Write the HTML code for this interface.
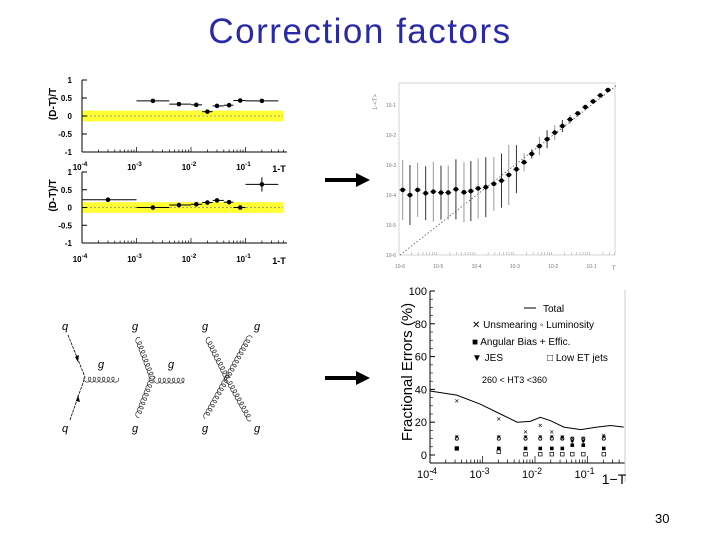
<!DOCTYPE html>
<html><head><meta charset="utf-8"><style>
body{margin:0;background:#fff;width:720px;height:540px;overflow:hidden;font-family:"Liberation Sans",sans-serif}
svg text{font-family:"Liberation Sans",sans-serif}
</style></head><body>
<svg id="s" width="720" height="540" viewBox="0 0 720 540">
<text x="360" y="43" text-anchor="middle" font-size="35" letter-spacing="1.5" fill="#2a2aa8">Correction factors</text>
<text x="655" y="523" font-size="13" fill="#000">30</text>
<g id="arrows">
<line x1="325" y1="180" x2="358" y2="180" stroke="#000" stroke-width="4"/><polygon points="356,173 370,180 356,187" fill="#000"/>
<line x1="325" y1="378" x2="358" y2="378" stroke="#000" stroke-width="4"/><polygon points="356,371 370,378 356,385" fill="#000"/>
</g>
<g id="p1"></g>
<g id="p2"></g>
<g id="p3"></g>
<g id="p4"></g>
<g id="fd"></g>
</svg>
<script>
// ---- data: top-left correction plots (x = 1-T) ----
const c1X=[0.002,0.006,0.0125,0.02,0.03,0.05,0.08,0.2];
const c1Y=[0.42,0.33,0.31,0.12,0.28,0.30,0.43,0.42];
const c1Lo=[0.001,0.004,0.01,0.016,0.025,0.04,0.06,0.1];
const c1Hi=[0.004,0.01,0.016,0.025,0.04,0.06,0.1,0.4];
const c2X=[0.0003,0.002,0.006,0.0125,0.02,0.03,0.05,0.08,0.2];
const c2Y=[0.22,0.0,0.07,0.09,0.14,0.20,0.15,0.0,0.65];
const c2Lo=[0.0001,0.001,0.004,0.01,0.016,0.025,0.04,0.06,0.1];
const c2Hi=[0.001,0.004,0.01,0.016,0.025,0.04,0.06,0.1,0.4];
const c2Err=[0,0,0,0,0,0,0,0,0.2];
const cYTicks=["1","0.5","0","-0.5","-1"];
// ---- data: log-log plot (log10 values) ----
const llX=[-5.93,-5.74,-5.54,-5.33,-5.13,-4.93,-4.74,-4.54,-4.33,-4.15,-3.96,-3.76,-3.55,-3.35,-3.16,-2.96,-2.76,-2.56,-2.36,-2.16,-1.96,-1.76,-1.56,-1.36,-1.16,-0.96,-0.77,-0.57];
const llY=[-3.83,-4.0,-3.83,-3.94,-3.89,-3.92,-3.92,-3.81,-3.91,-3.87,-3.78,-3.74,-3.63,-3.52,-3.33,-3.14,-2.91,-2.63,-2.37,-2.14,-1.92,-1.70,-1.48,-1.28,-1.07,-0.88,-0.68,-0.5];
const llErr=[1.0,1.0,0.9,0.9,1.0,0.9,0.9,1.0,1.0,1.0,1.0,1.0,0.9,0.9,1.0,0.8,0.3,0.15,0.3,0.3,0.25,0.2,0.15,0.05,0.05,0.05,0.05,0.05];
// ---- data: fractional errors ----
const totX=[-4,-3.49,-3.04,-2.66,-2.34,-2.09,-1.90,-1.71,-1.45,-1.13,-0.82,-0.56,-0.31];
const totY=[39,36.5,31,25,20,20.5,23,21,17,15.5,17,18,17];
const feX=[-3.49,-2.69,-2.18,-1.9,-1.68,-1.48,-1.29,-1.08,-0.69];
const unsm=[33,22,14,18,14,10,10,10,12];
const lumi=[10,10,10,10,10,10,10,10,10];
const angb=[4,4,4,4,4,4,6,6,4];
const jes=[11,11,11,11,11,11,8,8,11];
const lowet=[4,2,0.5,0.5,0.5,0.5,0.5,0.5,0.5];
const feYTicks=[0,20,40,60,80,100];

const NS="http://www.w3.org/2000/svg";
function mk(p,t,a,txt){const e=document.createElementNS(NS,t);for(const k in a)e.setAttribute(k,a[k]);if(txt!==undefined)e.textContent=txt;p.appendChild(e);return e;}
function sup(p,x,y,base,ex,fs,anchor){const t=mk(p,'text',{x:x,y:y,'font-size':fs,'text-anchor':anchor||'middle','font-weight':'bold'});const a=document.createElementNS(NS,'tspan');a.textContent=base;t.appendChild(a);const b=document.createElementNS(NS,'tspan');b.setAttribute('dy',-4);b.setAttribute('font-size',fs*0.8);b.textContent=ex;t.appendChild(b);return t;}

function corrPlot(g,top,bot,X,Y,Lo,Hi,Err,labY){
 const L=82,R=287;
 const sx=v=>L+(Math.log10(v)+4)*54.5, sy=v=>top+(1-v)/2*(bot-top);
 mk(g,'rect',{x:L,y:sy(0.15),width:R-L-4,height:sy(-0.15)-sy(0.15),fill:'#ffff33'});
 mk(g,'line',{x1:L,y1:sy(0),x2:R-4,y2:sy(0),stroke:'#888','stroke-dasharray':'2,2','stroke-width':0.7});
 mk(g,'line',{x1:L,y1:top,x2:L,y2:bot,stroke:'#000'});
 mk(g,'line',{x1:L,y1:bot,x2:R,y2:bot,stroke:'#000'});
 for(let d=-4;d<0;d++)for(let m=1;m<10;m++){const v=m*Math.pow(10,d);if(v>0.5)break;const x=sx(v);mk(g,'line',{x1:x,y1:bot,x2:x,y2:bot-(m==1?5:2.5),stroke:'#000','stroke-width':0.7});}
 cYTicks.forEach((t,i)=>{const v=1-i*0.5;const y=sy(v);mk(g,'line',{x1:L,y1:y,x2:L+5,y2:y,stroke:'#000'});const tx=mk(g,'text',{x:L-10,y:y+3,'font-size':8,'text-anchor':'end','font-weight':'bold'},t);});
 [-4,-3,-2,-1].forEach(d=>sup(g,sx(Math.pow(10,d))-2,labY,'10',''+d,8));
 const xt=mk(g,'text',{x:279,y:labY+2,'font-size':9,'font-weight':'bold','text-anchor':'middle'},'1-T');
 const yt=mk(g,'text',{x:0,y:0,'font-size':10,'font-weight':'bold','font-family':'Liberation Serif','text-anchor':'middle',transform:`translate(56,${(top+bot)/2-12}) rotate(-90)`},'(D-T)/T');
 X.forEach((v,i)=>{const x=sx(v),y=sy(Y[i]);mk(g,'line',{x1:sx(Lo[i]),y1:y,x2:sx(Hi[i]),y2:y,stroke:'#000','stroke-width':1});
  if(Err&&Err[i])mk(g,'line',{x1:x,y1:sy(Y[i]+Err[i]),x2:x,y2:sy(Y[i]-Err[i]),stroke:'#000'});
  const c=mk(g,'circle',{cx:x,cy:y,r:2.3,fill:'#000'});});
}
corrPlot(document.getElementById('p1'),80,152,c1X,c1Y,c1Lo,c1Hi,null,170);
corrPlot(document.getElementById('p2'),172,243,c2X,c2Y,c2Lo,c2Hi,c2Err,262);

(function(){const g=document.getElementById('p3');
 const sx=v=>400+(v+6)*38.3, sy=v=>255-(v+6)*30;
 mk(g,'rect',{x:399,y:83,width:216,height:172,fill:'none',stroke:'#ccc','stroke-width':0.8});
 mk(g,'line',{x1:sx(-6),y1:sy(-6),x2:sx(-0.34),y2:sy(-0.34),stroke:'#555','stroke-dasharray':'1.5,2','stroke-width':0.8});
 for(let d=-6;d<=-1;d++){mk(g,'text',{x:sx(d),y:268,'font-size':5,fill:'#777','text-anchor':'middle'},'10'+d);
  for(let m=2;m<10;m++){const x=sx(d+Math.log10(m));if(x<615)mk(g,'line',{x1:x,y1:255,x2:x,y2:252,stroke:'#aaa','stroke-width':0.6});}}
 for(let d=-6;d<=-1;d++)mk(g,'text',{x:396,y:sy(d)+2,'font-size':5,fill:'#777','text-anchor':'end'},'10'+d);
 mk(g,'text',{x:612,y:270,'font-size':6,fill:'#777'},'T');
 mk(g,'text',{x:0,y:0,'font-size':6,fill:'#888',transform:'translate(377,110) rotate(-90)'},'1-<T>');
 llX.forEach((v,i)=>{const x=sx(v),y=sy(llY[i]);mk(g,'line',{x1:x,y1:sy(llY[i]+llErr[i]),x2:x,y2:sy(llY[i]-llErr[i]),stroke:i%2?'#333':'#999','stroke-width':1});
  mk(g,'line',{x1:x-3,y1:y,x2:x+3,y2:y,stroke:'#000'});
  const c=mk(g,'circle',{cx:x,cy:y,r:2.3,fill:'#000'});});
})();

(function(){const g=document.getElementById('p4');
 const sx=v=>430+(v+4)*52.5, sy=v=>455-v*1.64;
 mk(g,'line',{x1:430,y1:291,x2:430,y2:463,stroke:'#000'});
 mk(g,'line',{x1:430,y1:463,x2:625,y2:463,stroke:'#000'});
 mk(g,'line',{x1:625,y1:290,x2:625,y2:482,stroke:'#ccc'});
 feYTicks.forEach(v=>{const y=sy(v);mk(g,'line',{x1:430,y1:y,x2:435,y2:y,stroke:'#000'});for(let k=1;k<4;k++)mk(g,'line',{x1:430,y1:y+k*8.2,x2:433,y2:y+k*8.2,stroke:'#000','stroke-width':0.6});
  const t=mk(g,'text',{x:427,y:y+4,'font-size':11,'text-anchor':'end'},''+v);});
 for(let d=-4;d<0;d++)for(let m=1;m<10;m++){const x=sx(d+Math.log10(m));if(x>623)break;mk(g,'line',{x1:x,y1:463,x2:x,y2:463-(m==1?7:3.5),stroke:'#000','stroke-width':0.7});}
 [-4,-3,-2,-1].forEach(d=>{const t=sup(g,sx(d)-3,478,'10',''+d,11);t.setAttribute('font-weight','normal');});
 const xt=mk(g,'text',{x:614,y:484,'font-size':14,'text-anchor':'middle'},'1−T');
 const yt=mk(g,'text',{x:0,y:0,'font-size':15,'text-anchor':'middle',transform:'translate(412,372) rotate(-90)'},'Fractional Errors (%)');
 let d='';totX.forEach((v,i)=>{d+=(i?'L':'M')+sx(v)+','+sy(totY[i]);});
 const tl=mk(g,'path',{d:d,fill:'none',stroke:'#000','stroke-width':1});
 feX.forEach((v,i)=>{const x=sx(v);
  mk(g,'text',{x:x,y:sy(unsm[i])+2,'font-size':6,'text-anchor':'middle'},'✕');
  mk(g,'circle',{cx:x,cy:sy(lumi[i]),r:1.6,fill:'none',stroke:'#000','stroke-width':0.8});
  mk(g,'polygon',{points:`${x-2},${sy(jes[i])-1.5} ${x+2},${sy(jes[i])-1.5} ${x},${sy(jes[i])+1.5}`,fill:'#000'});
  mk(g,'rect',{x:x-1.8,y:sy(angb[i])-1.8,width:3.6,height:3.6,fill:'#000'});
  mk(g,'rect',{x:x-1.8,y:sy(lowet[i])-1.8,width:3.6,height:3.6,fill:'none',stroke:'#000','stroke-width':0.7});
 });
 const lg=mk(g,'g',{});
 mk(lg,'line',{x1:524,y1:308,x2:536,y2:308,stroke:'#000'});
 mk(lg,'text',{x:543,y:312,'font-size':10},'Total');
 mk(lg,'text',{x:472,y:328,'font-size':10},'✕ Unsmearing ◦ Luminosity');
 mk(lg,'text',{x:472,y:345,'font-size':10},'■ Angular Bias + Effic.');
 mk(lg,'text',{x:472,y:361,'font-size':10},'▼ JES');
 mk(lg,'text',{x:547,y:361,'font-size':10},'□ Low ET jets');
 mk(lg,'text',{x:482,y:383,'font-size':9},'260 < HT3 <360');
})();

(function(){const g=document.getElementById('fd');
 function gluon(a,b){const dx=b[0]-a[0],dy=b[1]-a[1],L=Math.hypot(dx,dy),ux=dx/L,uy=dy/L,px=-uy,py=ux;const R=2.6,k=1.35;let d='';
  for(let s=0;s<=L;s+=0.5){const th=k*s;const al=s-R*Math.sin(th)*0.9,pe=R*(1-Math.cos(th));const x=a[0]+ux*al+px*pe,y=a[1]+uy*al+py*pe;d+=(s?'L':'M')+x.toFixed(1)+','+y.toFixed(1);}
  mk(g,'path',{d:d,fill:'none',stroke:'#333','stroke-width':0.7});}
 function lbl(x,y,t){mk(g,'text',{x:x,y:y,'font-size':11,'font-family':'Liberation Serif','font-style':'italic'},t);}
 mk(g,'line',{x1:68,y1:335,x2:85,y2:377,stroke:'#000','stroke-width':0.8,'stroke-dasharray':'3,1'});
 mk(g,'line',{x1:70,y1:420,x2:85,y2:377,stroke:'#000','stroke-width':0.8,'stroke-dasharray':'3,1'});
 mk(g,'polygon',{points:'75,357 79,355 78,362',fill:'#000'});mk(g,'polygon',{points:'76,401 80,402 78,395',fill:'#000'});
 gluon([85,377],[117,377]);lbl(62,330,'q');lbl(62,432,'q');lbl(98,368,'g');
 gluon([140,338],[155,378]);gluon([155,378],[140,417]);gluon([155,378],[185,378]);
 lbl(132,330,'g');lbl(132,432,'g');lbl(168,368,'g');
 gluon([210,338],[230,378]);gluon([252,338],[230,378]);gluon([230,378],[208,418]);gluon([230,378],[252,418]);
 lbl(202,330,'g');lbl(254,330,'g');lbl(202,432,'g');lbl(254,432,'g');
})();
</script>
</body></html>
